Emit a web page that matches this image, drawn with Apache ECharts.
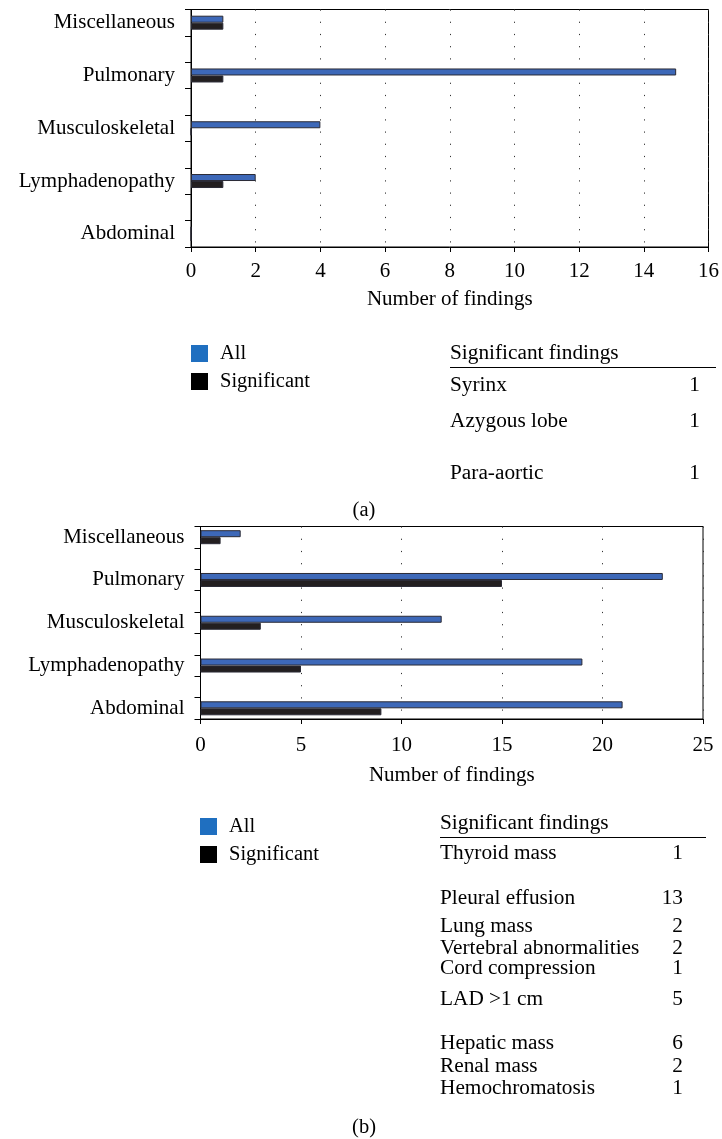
<!DOCTYPE html>
<html>
<head>
<meta charset="utf-8">
<script src="https://cdn.jsdelivr.net/npm/echarts@6/dist/echarts.min.js"></script>
<style>
html,body{margin:0;padding:0;background:#fff;}
#chart{width:722px;height:1139px;}
</style>
</head>
<body>
<div id="chart"></div>
<script>
// ---------- DATA ----------
const categories = ['Miscellaneous', 'Pulmonary', 'Musculoskeletal', 'Lymphadenopathy', 'Abdominal'];
const allA = [1, 15, 4, 2, 0];
const sigA = [1, 1, 0, 1, 0];
const allB = [2, 23, 12, 19, 21];
const sigB = [1, 15, 3, 5, 9];
const ticksA = [0, 2, 4, 6, 8, 10, 12, 14, 16];
const ticksB = [0, 5, 10, 15, 20, 25];
const tableAItems = ['Syrinx', 'Azygous lobe', 'Para-aortic'];
const tableACounts = [1, 1, 1];
const tableBItems = ['Thyroid mass', 'Pleural effusion', 'Lung mass', 'Vertebral abnormalities', 'Cord compression', 'LAD >1 cm', 'Hepatic mass', 'Renal mass', 'Hemochromatosis'];
const tableBCounts = [1, 13, 2, 2, 1, 5, 6, 2, 1];
const seriesNames = ['All', 'Significant'];
const tableTitle = 'Significant findings';
const axisTitle = 'Number of findings';
const panelLabels = ['(a)', '(b)'];

// ---------- LAYOUT / STYLE ----------
const FONT = '"Liberation Serif", "DejaVu Serif", serif';
const FS_AX = 21;
const FS_TAB = 21.3;
const FS_LEG = 20.5;
const BLUE_BAR = '#3d68b8';
const BLUE_LEG = '#1f6fc0';
const BLACK_BAR = '#231f20';
const tableARowY = [385, 421, 473];
const tableBRowY = [853, 898, 926, 948, 968, 999, 1043, 1066, 1088];

// categories separated by empty slots (gap bands)
function withGaps(arr, filler) {
  const out = [];
  arr.forEach((v, i) => { out.push(v); if (i < arr.length - 1) out.push(filler); });
  return out;
}
const slotCats = withGaps(categories, '');

function xAxisCfg(gridIndex, ticks, labelMargin, nameGap) {
  return {
    type: 'value', gridIndex,
    min: ticks[0], max: ticks[ticks.length - 1], interval: ticks[1] - ticks[0],
    name: axisTitle, nameLocation: 'middle', nameGap,
    nameTextStyle: {fontFamily: FONT, fontSize: FS_AX, color: '#000'},
    axisLine: {show: true, lineStyle: {color: '#000', width: 1}},
    axisTick: {show: true, length: 5, lineStyle: {color: '#000'}},
    axisLabel: {fontFamily: FONT, fontSize: FS_AX, color: '#000', margin: labelMargin},
    splitLine: {show: true, lineStyle: {color: '#333', type: [1.2, 11], width: 1}}
  };
}
function yAxisCfg(gridIndex) {
  return {
    type: 'category', gridIndex, data: slotCats, inverse: true,
    axisLine: {show: true, lineStyle: {color: '#000', width: 1}},
    axisTick: {show: true, length: 6, interval: 0, alignWithLabel: false, lineStyle: {color: '#000'}},
    axisLabel: {fontFamily: FONT, fontSize: FS_AX, color: '#000', margin: 16, interval: 0},
    splitLine: {show: false}
  };
}
function barSeries(name, data, idx, color) {
  return {
    name, type: 'bar', xAxisIndex: idx, yAxisIndex: idx,
    data: withGaps(data, '-'),
    barWidth: 7, barGap: '0%',
    itemStyle: {color, borderColor: '#2a2a35', borderWidth: 1},
    emphasis: {disabled: true}, silent: true
  };
}
function legendCfg(left, top) {
  return {
    orient: 'vertical', left, top, padding: 0, itemWidth: 17, itemHeight: 17, itemGap: 7,
    icon: 'rect', selectedMode: false,
    textStyle: {fontFamily: FONT, fontSize: FS_LEG, color: '#000', padding: [0, 0, 0, 7]},
    data: [
      {name: seriesNames[0], itemStyle: {color: BLUE_LEG, borderWidth: 0}},
      {name: seriesNames[1], itemStyle: {color: '#000', borderWidth: 0}}
    ]
  };
}
function txt(text, x, y, align, fs) {
  return {type: 'text', x, y, silent: true, style: {
    text, fill: '#000', fontFamily: FONT, fontSize: fs,
    textAlign: align, align: align, textVerticalAlign: 'middle', verticalAlign: 'middle'
  }};
}
function table(x0, x1, headY, lineY, items, counts, rowYs, numX) {
  const els = [txt(tableTitle, x0, headY, 'left', FS_TAB),
    {type: 'line', silent: true, shape: {x1: x0, y1: lineY, x2: x1, y2: lineY}, style: {stroke: '#000', lineWidth: 1}}];
  items.forEach((it, i) => {
    els.push(txt(it, x0, rowYs[i], 'left', FS_TAB));
    els.push(txt(String(counts[i]), numX, rowYs[i], 'right', FS_TAB));
  });
  return els;
}

const chart = echarts.init(document.getElementById('chart'), null, {renderer: 'canvas'});
chart.setOption({
  animation: false,
  backgroundColor: '#fff',
  grid: [
    {left: 191, top: 9.5, width: 520, height: 237.5, show: true, borderColor: '#000', borderWidth: 1, backgroundColor: 'transparent'},
    {left: 200.5, top: 526.5, width: 502.5, height: 192.5, show: true, borderColor: '#000', borderWidth: 1, backgroundColor: 'transparent'}
  ],
  xAxis: [xAxisCfg(0, ticksA, 14, 42), xAxisCfg(1, ticksB, 16, 46)],
  yAxis: [yAxisCfg(0), yAxisCfg(1)],
  legend: [legendCfg(191, 343), legendCfg(200, 816)],
  series: [
    barSeries(seriesNames[0], allA, 0, BLUE_BAR),
    barSeries(seriesNames[1], sigA, 0, BLACK_BAR),
    barSeries(seriesNames[0], allB, 1, BLUE_BAR),
    barSeries(seriesNames[1], sigB, 1, BLACK_BAR)
  ],
  graphic: [].concat(
    table(450, 716, 353, 367.5, tableAItems, tableACounts, tableARowY, 700),
    table(440, 706, 823, 837.5, tableBItems, tableBCounts, tableBRowY, 683),
    [txt(panelLabels[0], 364, 511, 'center', FS_LEG), txt(panelLabels[1], 364, 1128, 'center', FS_LEG)]
  )
});
</script>
</body>
</html>
